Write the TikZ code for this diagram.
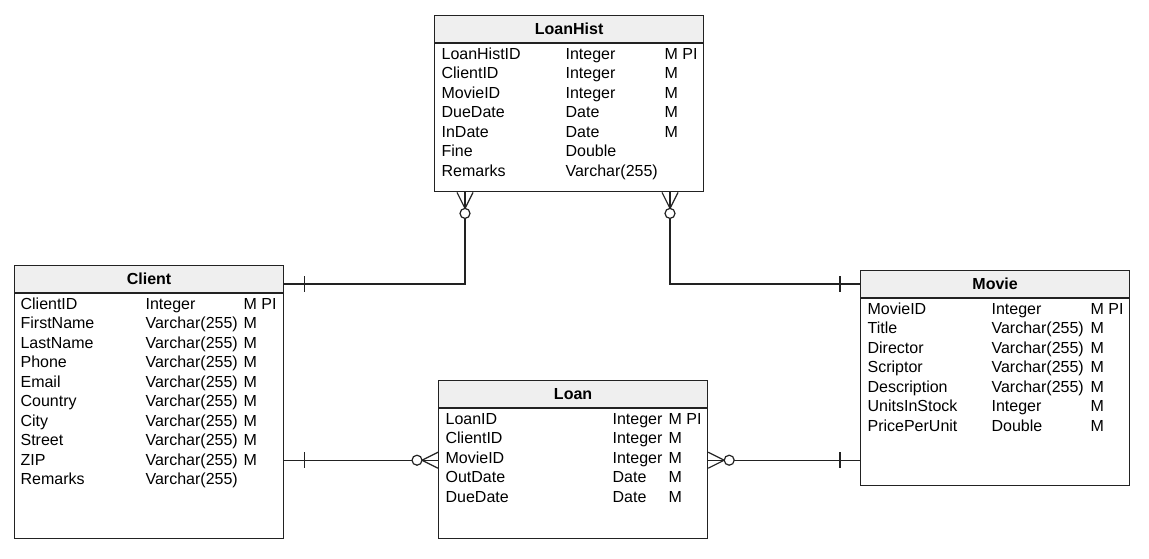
\documentclass[tikz,border=0pt]{standalone}
\usepackage{fontspec}
\setmainfont{Liberation Sans}
\usepackage{xcolor}
\usetikzlibrary{positioning, calc}

\definecolor{headgray}{HTML}{EFEFEF}
\definecolor{linegray}{HTML}{222222}

\begin{document}
\begin{tikzpicture}[x=1pt, y=-1pt, line width=1.2pt, draw=linegray,
    every node/.style={font=\fontsize{16}{19.5}\selectfont},
    tabhead/.style={draw=linegray, fill=headgray, minimum width=269pt, minimum height=27pt,
        inner sep=0pt, anchor=north west, font=\fontsize{16}{19.5}\selectfont\bfseries},
    tabbody/.style={draw=linegray, minimum width=269pt, inner sep=0pt, below=0pt of #1},
    fields/.style={anchor=north west, inner sep=0pt}]
    \useasboundingbox (0,0) rectangle (1149,558);

    % tables
    \node[tabhead] (loanhist) at (434,15) {LoanHist};
    \node[tabbody=loanhist, minimum height=148pt] (loanhistbody) {};
    \node[fields] (loanhistfields) at ($(loanhistbody.north west)+(7,2)$) {%
        \begin{tabular}{@{}p{124pt}@{}p{99pt}@{}l@{}}
        LoanHistID & Integer & M PI\\
        ClientID & Integer & M\\
        MovieID & Integer & M\\
        DueDate & Date & M\\
        InDate & Date & M\\
        Fine & Double & \\
        Remarks & Varchar(255) & \\
        \end{tabular}};

    \node[tabhead] (client) at (14,265) {Client};
    \node[tabbody=client, minimum height=245pt] (clientbody) {};
    \node[fields] (clientfields) at ($(clientbody.north west)+(6,2)$) {%
        \begin{tabular}{@{}p{125pt}@{}p{98pt}@{}l@{}}
        ClientID & Integer & M PI\\
        FirstName & Varchar(255) & M\\
        LastName & Varchar(255) & M\\
        Phone & Varchar(255) & M\\
        Email & Varchar(255) & M\\
        Country & Varchar(255) & M\\
        City & Varchar(255) & M\\
        Street & Varchar(255) & M\\
        ZIP & Varchar(255) & M\\
        Remarks & Varchar(255) & \\
        \end{tabular}};

    \node[tabhead] (movie) at (860,270) {Movie};
    \node[tabbody=movie, minimum height=187pt] (moviebody) {};
    \node[fields] (moviefields) at ($(moviebody.north west)+(7,2)$) {%
        \begin{tabular}{@{}p{124pt}@{}p{99pt}@{}l@{}}
        MovieID & Integer & M PI\\
        Title & Varchar(255) & M\\
        Director & Varchar(255) & M\\
        Scriptor & Varchar(255) & M\\
        Description & Varchar(255) & M\\
        UnitsInStock & Integer & M\\
        PricePerUnit & Double & M\\
        \end{tabular}};

    \node[tabhead] (loan) at (438,380) {Loan};
    \node[tabbody=loan, minimum height=130pt] (loanbody) {};
    \node[fields] (loanfields) at ($(loanbody.north west)+(7,2)$) {%
        \begin{tabular}{@{}p{167pt}@{}p{56pt}@{}l@{}}
        LoanID & Integer & M PI\\
        ClientID & Integer & M\\
        MovieID & Integer & M\\
        OutDate & Date & M\\
        DueDate & Date & M\\
        \end{tabular}};

    % Client -- LoanHist
    \coordinate (c1) at ($(client.north east)+(0,19)$);
    \coordinate (h1) at ($(loanhistbody.south west)+(31,0)$);
    \draw (c1) -| (h1);
    \draw ($(c1)+(20,-8)$) -- ($(c1)+(20,8)$);
    \draw ($(h1)+(-8,0)$) -- ($(h1)+(0,16)$) -- ($(h1)+(8,0)$);
    \draw[fill=white] ($(h1)+(0,21)$) circle[radius=5pt];

    % Movie -- LoanHist
    \coordinate (m1) at ($(movie.north west)+(0,14)$);
    \coordinate (h2) at ($(loanhistbody.south west)+(236,0)$);
    \draw (m1) -| (h2);
    \draw ($(m1)+(-20,-8)$) -- ($(m1)+(-20,8)$);
    \draw ($(h2)+(-8,0)$) -- ($(h2)+(0,16)$) -- ($(h2)+(8,0)$);
    \draw[fill=white] ($(h2)+(0,21)$) circle[radius=5pt];

    % Client -- Loan
    \coordinate (c2) at ($(clientbody.north east)+(0,167)$);
    \coordinate (l1) at ($(loanbody.north west)+(0,52)$);
    \draw (c2) -- (l1);
    \draw ($(c2)+(20,-8)$) -- ($(c2)+(20,8)$);
    \draw ($(l1)+(0,-8)$) -- ($(l1)+(-16,0)$) -- ($(l1)+(0,8)$);
    \draw[fill=white] ($(l1)+(-21,0)$) circle[radius=5pt];

    % Movie -- Loan
    \coordinate (m2) at ($(moviebody.north west)+(0,162)$);
    \coordinate (l2) at ($(loanbody.north east)+(0,52)$);
    \draw (m2) -- (l2);
    \draw ($(m2)+(-20,-8)$) -- ($(m2)+(-20,8)$);
    \draw ($(l2)+(0,-8)$) -- ($(l2)+(16,0)$) -- ($(l2)+(0,8)$);
    \draw[fill=white] ($(l2)+(21,0)$) circle[radius=5pt];
\end{tikzpicture}
\end{document}
